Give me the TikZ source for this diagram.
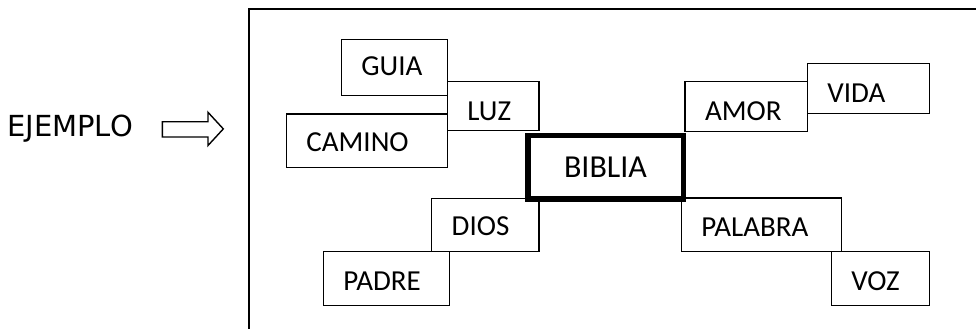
\documentclass[tikz,border=0pt]{standalone}
\usepackage{fontspec}
\setmainfont{Carlito}
\newfontfamily\comicfont{DejaVu Sans}
\begin{document}
\tikzset{
  wbox/.style={draw, line width=1.4pt, fill=white, inner sep=0pt, anchor=north west, align=left, font=\fontsize{29}{31}\selectfont},
  bigbox/.style={draw, line width=5.5pt, fill=white, inner sep=0pt, anchor=north west, align=center, font=\fontsize{32}{34}\selectfont},
  frameline/.style={line width=1.4pt},
  blockarrow/.style={line width=1.4pt, line join=miter}
}
\begin{tikzpicture}[x=1pt,y=-1pt]
\useasboundingbox (0,0) rectangle (976,329);
\draw[frameline] (976,9) -- (249,9) -- (249,329);

\node[anchor=base west, inner sep=0pt, font=\comicfont\fontsize{29}{31}\selectfont] (ejemplo) at (7,136) {EJEMPLO};
\draw[blockarrow] (162.3,121.7) -- (208,121.7) -- (208,112.3) -- (223.3,128.9) -- (208,145.5) -- (208,137) -- (162.3,137) -- cycle;

\node[wbox, minimum width=106pt, minimum height=55.7pt, text width=66pt, text height=36pt, text depth=19.7pt] (guia) at (340.7,39) {GUIA};
\node[wbox, minimum width=91.6pt, minimum height=49pt, text width=51.6pt, text height=39pt, text depth=10pt] (luz) at (446.7,81) {LUZ};
\node[wbox, minimum width=161pt, minimum height=53.4pt, text width=121pt, text height=37.4pt, text depth=16pt] (camino) at (285.7,113.3) {CAMINO};
\node[wbox, minimum width=122.4pt, minimum height=49.7pt, text width=82.4pt, text height=39pt, text depth=10.7pt] (amor) at (684.3,81) {AMOR};
\node[wbox, minimum width=122.3pt, minimum height=49.7pt, text width=82.3pt, text height=38.7pt, text depth=11pt] (vida) at (806.7,63) {VIDA};
\node[wbox, minimum width=107.3pt, minimum height=53pt, text width=67.3pt, text height=37.3pt, text depth=15.7pt] (dios) at (431,197.7) {DIOS};
\node[wbox, minimum width=126.3pt, minimum height=54pt, text width=86.3pt, text height=39pt, text depth=15pt] (padre) at (322.7,251) {PADRE};
\node[wbox, minimum width=160.3pt, minimum height=53.4pt, text width=120.3pt, text height=38.4pt, text depth=15pt] (palabra) at (680.7,197.3) {PALABRA};
\node[wbox, minimum width=98.3pt, minimum height=54pt, text width=58.3pt, text height=38.3pt, text depth=15.7pt] (voz) at (830.7,251) {VOZ};
\node[bigbox, minimum width=155.5pt, minimum height=63.5pt, text height=41.8pt, text depth=21.7pt] (biblia) at (525,132.5) {BIBLIA};
\end{tikzpicture}
\end{document}
